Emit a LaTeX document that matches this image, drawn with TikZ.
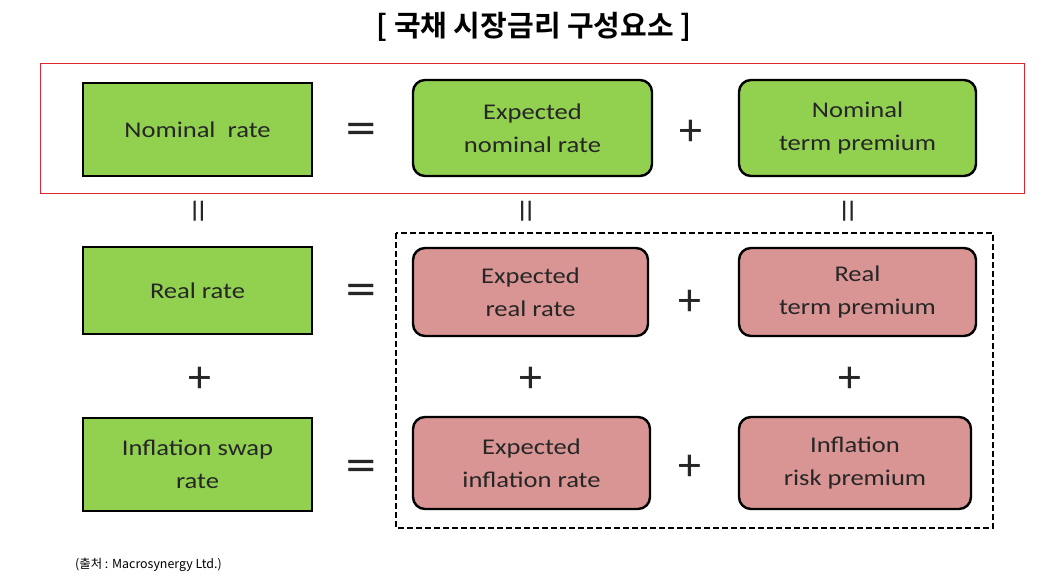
\documentclass[tikz,border=0pt]{standalone}
\usepackage{fontspec}
\setmainfont{Carlito}
\newfontfamily\boxfont[FakeStretch=1.18]{Carlito}
\newfontfamily\symfont{DejaVu Sans}
\newfontfamily\barfont{DejaVu Sans Bold}
\newfontfamily\krfont{Noto Sans CJK KR}
\newfontfamily\krbold{Noto Sans CJK KR Bold}
\definecolor{boxgreen}{HTML}{92D050}
\definecolor{boxpink}{HTML}{D99594}
\definecolor{frame}{HTML}{E0262B}
\definecolor{txt}{HTML}{262626}
\tikzset{
  base/.style={draw=black, line width=2.4pt, text=txt, align=center, inner sep=0pt,
    font=\boxfont\fontsize{22.5}{33}\selectfont},
  greenrect/.style={base, fill=boxgreen, rectangle},
  greenround/.style={base, fill=boxgreen, rounded corners=12pt},
  pinkround/.style={base, fill=boxpink, rounded corners=12pt},
  eqsym/.style={font=\symfont\fontsize{40}{40}\selectfont, text=txt, inner sep=0pt, yshift=-3pt},
  plsym/.style={font=\fontsize{46}{46}\selectfont, text=txt, inner sep=0pt, yshift=-3pt},
  barsym/.style={font=\barfont\fontsize{20}{20}\selectfont, text=txt, inner sep=0pt},
}
\begin{document}
\begin{tikzpicture}[x=1pt,y=-1pt]
\useasboundingbox (0,0) rectangle (1054,588);
% title
\node[font=\krbold\fontsize{29}{29}\selectfont, text=black] (title) at (534,27) {[ 국채 시장금리 구성요소 ]};
% frames
\draw[frame, line width=1pt] (40,64) rectangle (1024,194);
\draw[black, line width=2pt, dash pattern=on 6pt off 3pt] (396,233) rectangle (993,528);
% row 1
\node[greenrect, minimum width=229pt, minimum height=93pt] (nr) at (197.5,129.5) {\raisebox{-2pt}{Nominal\ \ rate}};
\node[greenround, minimum width=239pt, minimum height=96pt] (enr) at (532.5,128) {Expected\\nominal rate};
\node[greenround, minimum width=237pt, minimum height=96pt] (ntp) at (857.5,128) {Nominal\\term premium};
% row 2
\node[greenrect, minimum width=229pt, minimum height=87pt] (rr) at (197.5,290.5) {\raisebox{-2pt}{Real rate}};
\node[pinkround, minimum width=235pt, minimum height=88pt] (err) at (530.5,292) {Expected\\real rate};
\node[pinkround, minimum width=237pt, minimum height=88pt] (rtp) at (857.5,292) {Real\\term premium};
% row 3
\node[greenrect, minimum width=229pt, minimum height=93pt] (isr) at (197.5,464.5) {Inflation swap\\rate};
\node[pinkround, minimum width=237pt, minimum height=92pt] (eir) at (531.5,463) {Expected\\inflation rate};
\node[pinkround, minimum width=232pt, minimum height=92pt] (irp) at (855,463) {Inflation\\risk premium};
% symbols
\node[eqsym] (eq1) at (361,129.5) {=};
\node[eqsym] (eq2) at (361,290) {=};
\node[eqsym] (eq3) at (361,466) {=};
\node[plsym] (pl1) at (691,130) {+};
\node[plsym] (pl2) at (690,300) {+};
\node[plsym] (pl3) at (690,465) {+};
\node[plsym] (pl4) at (200,377) {+};
\node[plsym] (pl5) at (531,377) {+};
\node[plsym] (pl6) at (850,377) {+};
\node[barsym] (b1) at (198.5,211) {||};
\node[barsym] (b2) at (526,211) {||};
\node[barsym] (b3) at (848,211) {||};
% source
\node[font=\krfont\fontsize{12.4}{12.4}\selectfont, text=black, anchor=west, inner sep=0pt] (src) at (75,565) {(출처 : Macrosynergy Ltd.)};
\end{tikzpicture}
\end{document}
